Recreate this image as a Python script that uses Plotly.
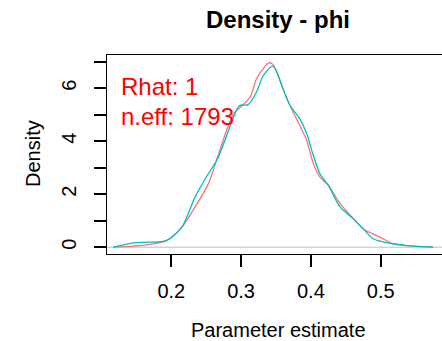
import plotly.graph_objects as go

# ---- data ----
red_x = [0.117, 0.140, 0.167, 0.193, 0.215, 0.234, 0.253, 0.265, 0.282, 0.291, 0.300, 0.313,
         0.322, 0.332, 0.340, 0.346, 0.360, 0.370, 0.384, 0.394, 0.403, 0.413, 0.425, 0.442,
         0.461, 0.475, 0.489, 0.499, 0.518, 0.537, 0.575]
red_y = [0.0, 0.03, 0.10, 0.25, 0.75, 1.51, 2.39, 3.30, 4.60, 5.10, 5.30, 5.66,
         6.35, 6.75, 6.96, 6.88, 5.98, 5.35, 4.60, 4.03, 3.20, 2.64, 2.33, 1.64,
         1.07, 0.69, 0.50, 0.38, 0.13, 0.06, 0.0]

cyan_x = [0.117, 0.148, 0.167, 0.193, 0.215, 0.234, 0.253, 0.265, 0.282, 0.291, 0.298, 0.310,
          0.322, 0.332, 0.346, 0.360, 0.370, 0.384, 0.394, 0.403, 0.413, 0.425, 0.442, 0.461,
          0.475, 0.489, 0.499, 0.518, 0.537, 0.575]
cyan_y = [0.0, 0.17, 0.19, 0.25, 0.75, 1.89, 2.77, 3.27, 4.40, 5.03, 5.35, 5.38,
          5.85, 6.48, 6.82, 5.98, 5.35, 4.85, 4.28, 3.50, 2.77, 2.33, 1.51, 1.07,
          0.69, 0.32, 0.23, 0.13, 0.06, 0.0]

x_ticks = [0.2, 0.3, 0.4, 0.5]
y_ticks = [0, 1, 2, 3, 4, 5, 6, 7]
y_labels = ["0", "", "2", "", "4", "", "6", ""]

title_text = "Density - phi"
x_title = "Parameter estimate"
y_title = "Density"
stat_lines = ["Rhat: 1", "n.eff: 1793"]

FONT = "Liberation Sans, Arial, Helvetica, sans-serif"

fig = go.Figure()
fig.add_trace(go.Scatter(x=red_x, y=red_y, mode="lines",
                         line=dict(color="#F8766D", width=1.3, shape="spline", smoothing=0.8),
                         showlegend=False))
fig.add_trace(go.Scatter(x=cyan_x, y=cyan_y, mode="lines",
                         line=dict(color="#00BFC4", width=1.3, shape="spline", smoothing=0.8),
                         showlegend=False))

# zero reference line
fig.add_shape(type="line", xref="paper", yref="y", x0=0, x1=1, y0=0, y1=0,
              line=dict(color="#BEBEBE", width=1), layer="below")

W, H = 442, 341
L, T, B = 107, 55, 87
pw, ph = W - L, H - T - B

fig.update_layout(
    width=W, height=H,
    margin=dict(l=L, r=0, t=T, b=B),
    plot_bgcolor="white", paper_bgcolor="white",
    font=dict(family=FONT, size=20, color="black"),
    title=dict(text="<b>" + title_text + "</b>", x=278 / W, xanchor="center",
               y=1 - 20 / H, yanchor="middle", yref="container",
               font=dict(size=24, family=FONT, color="black")),
    xaxis=dict(range=[0.1079, 0.5878], tickvals=x_ticks,
               ticktext=[f"{v:.1f}" for v in x_ticks],
               ticks="outside", ticklen=12, tickwidth=1.5, tickcolor="black",
               showline=True, mirror=True, linecolor="black", linewidth=1,
               showgrid=False, zeroline=False, ticklabelstandoff=7,
               tickfont=dict(size=20)),
    yaxis=dict(range=[-0.257, 7.253], tickvals=y_ticks, ticktext=y_labels,
               ticks="outside", ticklen=12, tickwidth=1.5, tickcolor="black",
               showline=True, linecolor="black", linewidth=1,
               showgrid=False, zeroline=False, tickangle=-90, ticklabelstandoff=10,
               tickfont=dict(size=20)),
)

# axis titles
fig.add_annotation(text=x_title, xref="paper", yref="paper",
                   x=(278 - L) / pw, y=-(330 - (T + ph)) / ph,
                   xanchor="center", yanchor="middle", showarrow=False,
                   font=dict(size=20, family=FONT, color="black"))
fig.add_annotation(text=y_title, xref="paper", yref="paper",
                   x=(33 - L) / pw, y=1 - (154 - T) / ph, textangle=-90,
                   xanchor="center", yanchor="middle", showarrow=False,
                   font=dict(size=20, family=FONT, color="black"))

# stats text
for i, (txt, cy) in enumerate(zip(stat_lines, [86, 116])):
    fig.add_annotation(text=txt, xref="paper", yref="paper",
                       x=(119 - L) / pw, y=1 - (cy - T) / ph,
                       xanchor="left", yanchor="middle", showarrow=False,
                       font=dict(size=24, family=FONT, color="#FF0000"))

fig.write_html("out.html")
